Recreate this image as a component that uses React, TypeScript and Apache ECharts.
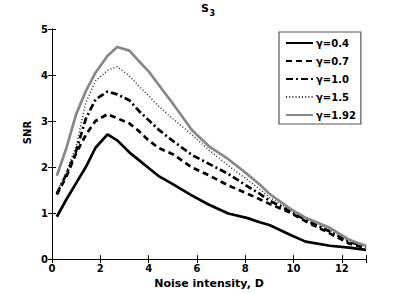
import React, { useEffect, useRef } from 'react';
import * as echarts from 'echarts';

const noiseD = [0.2, 0.6, 1.0, 1.4, 1.8, 2.3, 2.7, 3.2, 3.6, 4.0, 4.4, 5.0, 5.8, 6.5, 7.3, 8.1, 8.6, 9.0, 9.9, 10.5, 11.5, 12.3, 13.0];
const snrG04 = [0.92, 1.3, 1.65, 2.0, 2.42, 2.71, 2.58, 2.32, 2.15, 1.98, 1.81, 1.63, 1.38, 1.18, 0.99, 0.89, 0.8, 0.74, 0.52, 0.38, 0.29, 0.25, 0.2];
const snrG07 = [1.4, 1.8, 2.3, 2.7, 3.0, 3.15, 3.06, 2.95, 2.78, 2.58, 2.42, 2.28, 1.99, 1.82, 1.6, 1.42, 1.3, 1.2, 1.0, 0.82, 0.56, 0.34, 0.24];
const snrG10 = [1.42, 1.85, 2.35, 3.05, 3.47, 3.64, 3.58, 3.45, 3.22, 3.02, 2.82, 2.57, 2.26, 2.07, 1.85, 1.58, 1.42, 1.27, 1.03, 0.85, 0.6, 0.38, 0.27];
const snrG15 = [1.45, 1.9, 2.45, 3.4, 3.87, 4.1, 4.18, 3.98, 3.76, 3.55, 3.33, 3.05, 2.7, 2.37, 2.03, 1.72, 1.52, 1.34, 1.06, 0.88, 0.64, 0.4, 0.28];
const snrG192 = [1.81, 2.42, 3.15, 3.65, 4.05, 4.42, 4.61, 4.53, 4.3, 4.08, 3.8, 3.38, 2.8, 2.45, 2.17, 1.84, 1.62, 1.42, 1.08, 0.9, 0.68, 0.42, 0.29];
const seriesNames = ['γ=0.4', 'γ=0.7', 'γ=1.0', 'γ=1.5', 'γ=1.92'];
const xMin = 0;
const xMax = 13;
const xStep = 2;
const yMin = 0;
const yMax = 5;
const yStep = 1;

const FONT = 'DejaVu Sans';

function pairs(ys: number[]) {
  return noiseD.map((d, i) => [d, ys[i]]);
}

export default function App() {
  const ref = useRef<HTMLDivElement>(null);
  useEffect(() => {
    if (!ref.current) return;
    const chart = echarts.init(ref.current, undefined, { renderer: 'svg' });
    const mk = (name: string, ys: number[], color: string, width: number, type: any) => ({
      name,
      type: 'line',
      data: pairs(ys),
      showSymbol: false,
      symbol: 'none',
      lineStyle: { color, width, type },
      itemStyle: { color },
      z: 3,
    });
    const axisCommon = {
      axisLine: { show: true, lineStyle: { color: '#000', width: 1 } },
      axisTick: { show: true, inside: true, length: 4, lineStyle: { color: '#000' } },
      splitLine: { show: false },
    };
    chart.setOption({
      animation: false,
      backgroundColor: '#fff',
      grid: { left: 52, right: 37, top: 29, bottom: 33, containLabel: false },
      graphic: [
        { type: 'text', left: 201, top: 3, style: { text: 'S', font: `bold 11px "${FONT}"`, fill: '#000' } },
        { type: 'text', left: 209.5, top: 9.5, style: { text: '3', font: `bold 8px "${FONT}"`, fill: '#000' } },
        {
          type: 'text', x: 27.5, y: 132.5, rotation: Math.PI / 2,
          style: { text: 'SNR', font: `bold 10px "${FONT}"`, fill: '#000', align: 'center', verticalAlign: 'middle' },
        },
      ],
      legend: {
        left: 279, top: 32,
        orient: 'vertical',
        data: seriesNames,
        itemWidth: 27, itemHeight: 10, itemGap: 8,
        padding: [6, 5, 4, 6],
        backgroundColor: '#fff',
        borderColor: '#555', borderWidth: 1.2, borderRadius: 0,
        textStyle: { fontFamily: FONT, fontWeight: 'bold', fontSize: 10, color: '#000', padding: [0, 0, 0, -2] },
        itemStyle: { opacity: 0 },
      },
      xAxis: [
        {
          type: 'value', min: xMin, max: xMax, interval: xStep,
          position: 'bottom',
          ...axisCommon,
          axisLabel: {
            fontFamily: FONT, fontWeight: 'bold', fontSize: 10, color: '#000', margin: 4,
            formatter: (v: number) => (v === xMax ? '' : String(v)),
          },
          name: 'Noise intensity, D', nameLocation: 'middle', nameGap: 17,
          nameTextStyle: { fontFamily: FONT, fontWeight: 'bold', fontSize: 11, color: '#000' },
        },
        {
          type: 'value', min: xMin, max: xMax, interval: xStep,
          position: 'top',
          ...axisCommon,
          axisLabel: { show: false },
        },
      ],
      yAxis: [
        {
          type: 'value', min: yMin, max: yMax, interval: yStep,
          position: 'left',
          ...axisCommon,
          axisLabel: { fontFamily: FONT, fontWeight: 'bold', fontSize: 10, color: '#000', margin: 4 },
        },
        {
          type: 'value', min: yMin, max: yMax, interval: yStep,
          position: 'right',
          ...axisCommon,
          axisLabel: { show: false },
        },
      ],
      series: [
        mk(seriesNames[0], snrG04, '#000', 2.7, 'solid'),
        mk(seriesNames[1], snrG07, '#000', 2.7, [6, 4]),
        mk(seriesNames[2], snrG10, '#000', 2.7, [7, 3, 2, 3]),
        mk(seriesNames[3], snrG15, '#333', 1.6, [1, 2.2]),
        mk(seriesNames[4], snrG192, '#888', 2.7, 'solid'),
      ],
    });
    return () => chart.dispose();
  }, []);
  return <div ref={ref} style={{ width: 403, height: 294, position: 'absolute', left: 0, top: 0 }} />;
}
